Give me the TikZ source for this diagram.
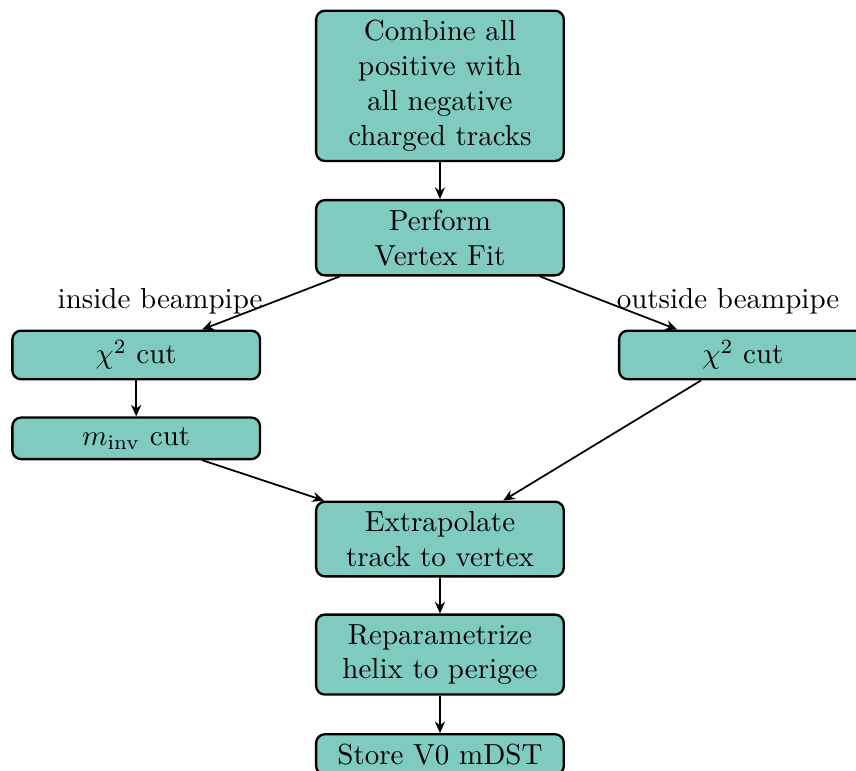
\documentclass[tikz,border=0pt]{standalone}
\usetikzlibrary{arrows.meta}
\definecolor{boxfill}{RGB}{128,203,192}
\tikzset{
	stepbox/.style={draw=black, fill=boxfill, thick, rounded corners=3pt, minimum width=3cm, align=center},
	flow/.style={-{Stealth[length=4pt, width=3.5pt]}, semithick}
}
\begin{document}
\begin{tikzpicture}
			\useasboundingbox (0,0) rectangle (10.37,-9.34);
			\node[stepbox] (combine) at (5.33,-1.04) {Combine all\\positive with\\all negative\\charged tracks};
			\node[stepbox] (fit) at (5.33,-2.88) {Perform\\Vertex Fit};
			\node[stepbox] (chiin) at (1.65,-4.30) {$\chi^2$ cut};
			\node[stepbox] (minv) at (1.65,-5.31) {$m_{\mathrm{inv}}$ cut};
			\node[stepbox] (chiout) at (9.00,-4.30) {$\chi^2$ cut};
			\node[stepbox] (extrap) at (5.33,-6.53) {Extrapolate\\track to vertex};
			\node[stepbox] (reparam) at (5.33,-7.93) {Reparametrize\\helix to perigee};
			\node[stepbox] (store) at (5.33,-9.14) {Store V0 mDST};
			\node (inlbl) at (1.94,-3.65) {inside beampipe};
			\node (outlbl) at (8.82,-3.65) {outside beampipe};
			% flow through the boxes
			\draw[flow] (combine) -- (fit);
			\draw[flow] (fit) -- (chiin);
			\draw[flow] (fit) -- (chiout);
			\draw[flow] (chiin) -- (minv);
			\draw[flow] (minv) -- (extrap);
			\draw[flow] (chiout) -- (extrap);
			\draw[flow] (extrap) -- (reparam);
			\draw[flow] (reparam) -- (store);
\end{tikzpicture}
\end{document}
